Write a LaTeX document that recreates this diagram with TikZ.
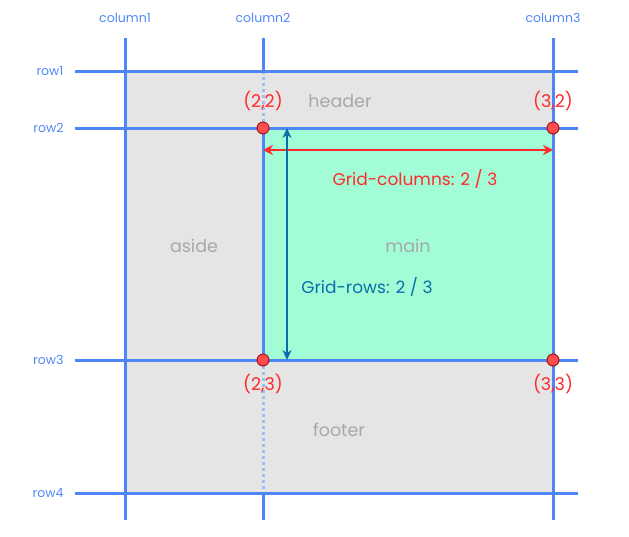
\documentclass[tikz,border=0pt]{standalone}
\usepackage{fontspec}
\setmainfont{Poppins}
\usepackage{xcolor}
\usepackage{tikz}
\usetikzlibrary{arrows.meta}

\definecolor{gridblue}{HTML}{4F86F7}
\definecolor{dotblue}{HTML}{A0BDF7}
\definecolor{areagray}{HTML}{E5E5E5}
\definecolor{areagreen}{HTML}{A2FCD6}
\definecolor{pointred}{HTML}{FF2A2A}
\definecolor{rowteal}{HTML}{0A6EA8}
\definecolor{labelgray}{HTML}{A8A8A8}

\begin{document}
\begin{tikzpicture}[x=1pt,y=-1pt,
		gridline/.style={draw=gridblue,line width=3pt},
		gridlabel/.style={text=gridblue,font=\fontsize{12.5}{14}\selectfont},
		arealabel/.style={text=labelgray,font=\fontsize{17.5}{19}\selectfont},
		cornerlabel/.style={text=pointred,font=\fontsize{17.5}{19}\selectfont},
		corner/.style={circle,draw=red!60!black,fill=red!70!white,line width=0.8pt,inner sep=0pt,minimum size=12pt}]
		\useasboundingbox (0,0) rectangle (629,536);
		% areas
		\fill[areagray] (125,71) rectangle (553,493);
		\fill[areagreen] (263,128) rectangle (553,360);
		\draw[dotblue,line width=3pt,dash pattern=on 3pt off 3pt] (263,71) -- (263,128) (263,360) -- (263,493);
		% grid lines
		\foreach \y/\r in {71/1,128/2,360/3,493/4}{
			\draw[gridline] (75,\y) -- (578,\y);
			\node[gridlabel,anchor=east] (row\r) at (67,\y) {row\r};
		}
		\foreach \x/\c in {125/1,553/3}{
			\draw[gridline] (\x,38) -- (\x,520);
			\node[gridlabel] (col\c) at (\x,18) {column\c};
		}
		\draw[gridline] (263,38) -- (263,71) (263,128) -- (263,360) (263,493) -- (263,520);
		\node[gridlabel] (col2) at (263,18) {column2};
		% area names
		\node[arealabel] (header) at (340,101) {header};
		\node[arealabel] (aside) at (194,246) {aside};
		\node[arealabel] (main) at (408,246) {main};
		\node[arealabel] (footer) at (339,430) {footer};
		% corners
		\node[corner] (c22) at (263,128) {};
		\node[corner] (c32) at (553,128) {};
		\node[corner] (c23) at (263,360) {};
		\node[corner] (c33) at (553,360) {};
		\node[cornerlabel] at (263,101) {(2,2)};
		\node[cornerlabel] at (553,101) {(3,2)};
		\node[cornerlabel] at (263,384) {(2,3)};
		\node[cornerlabel] at (553,384) {(3,3)};
		% spans
		\coordinate (colstart) at (263,150);
		\coordinate (colend) at (553,150);
		\coordinate (rowstart) at (287,128);
		\coordinate (rowend) at (287,360);
		\draw[pointred,line width=2pt,{Stealth[length=10pt,width=10pt]}-{Stealth[length=10pt,width=10pt]}] (colstart) -- (colend);
		\draw[rowteal,line width=1.6pt,{Stealth[length=10pt,width=9pt]}-{Stealth[length=10pt,width=9pt]}] (rowstart) -- (rowend);
		\node[text=pointred,font=\fontsize{17}{19}\selectfont] (colspan) at (415,179) {Grid-columns: 2 / 3};
		\node[text=rowteal,font=\fontsize{17}{19}\selectfont] (rowspan) at (367,287) {Grid-rows: 2 / 3};
	\end{tikzpicture}
\end{document}
